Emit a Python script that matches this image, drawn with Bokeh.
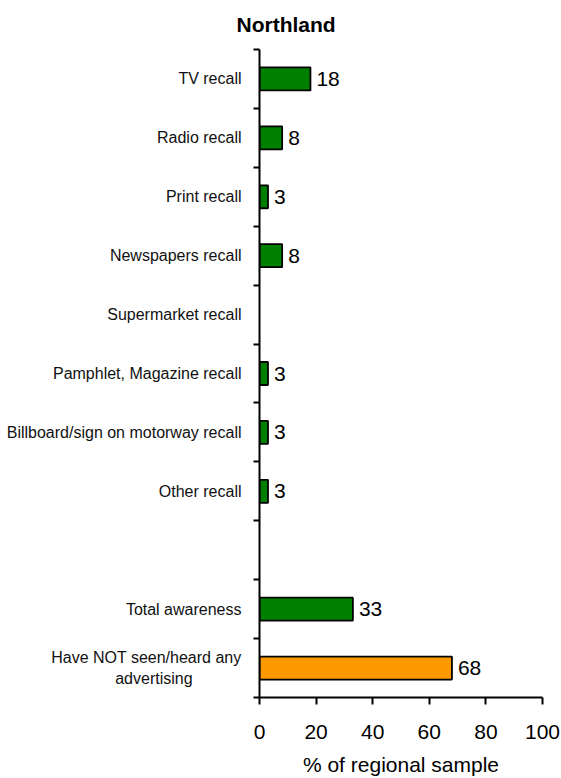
from bokeh.plotting import figure
from bokeh.models import Range1d, FixedTicker, ColumnDataSource, LinearAxis
from bokeh.embed import file_html
from bokeh.resources import INLINE
from bokeh.core.properties import value

NBSP = "\u00a0"
categories = ["TV recall", "Radio recall", "Print recall", "Newspapers recall",
              "Supermarket recall", "Pamphlet, Magazine recall",
              "Billboard/sign on motorway recall", "Other recall", "",
              "Total awareness", "Have NOT seen/heard any\nadvertising" + NBSP * 11]
values = [18, 8, 3, 8, None, 3, 3, 3, None, 33, 68]
colors = ["#008000"] * 10 + ["#FF9900"]
x_ticks = [0, 20, 40, 60, 80, 100]

FONT = "Liberation Sans"

pos = list(range(len(categories)))
bar_pos = [p for p, v in zip(pos, values) if v is not None]
bar_val = [v for v in values if v is not None]
bar_col = [c for c, v in zip(colors, values) if v is not None]
src = ColumnDataSource(dict(y=bar_pos, x=bar_val, c=bar_col,
                            t=[str(v) for v in bar_val]))

p = figure(width=561, height=778, output_backend="svg", toolbar_location=None,
           x_range=Range1d(0, 100), y_range=Range1d(len(categories) - 0.5, -0.5),
           title="Northland", min_border_left=259, min_border_right=19,
           min_border_top=49, min_border_bottom=81, x_axis_location=None,
           y_axis_location=None)
p.outline_line_color = None
p.xgrid.visible = False
p.ygrid.visible = False
p.title.align = "left"
p.title.offset = -23
p.title.text_font = FONT
p.title.text_font_size = "21px"
p.title.text_font_style = "bold"
p.title.text_color = "black"
p.title.vertical_align = "top"
p.title.standoff = 23

p.hbar(y="y", right="x", left=0, height=0.39, fill_color="c",
       line_color="black", line_width=1.8, source=src)
p.text(x="x", y="y", text="t", source=src, x_offset=6,
       text_font=value(FONT), text_font_size="21px", text_baseline="middle",
       text_align="left", text_color="black")

xa = LinearAxis(ticker=FixedTicker(ticks=x_ticks), axis_label="% of regional sample")
xa.axis_line_width = 2
xa.major_tick_line_width = 2
xa.major_tick_out = 7
xa.major_tick_in = 0
xa.minor_tick_line_color = None
xa.major_label_text_font = FONT
xa.major_label_text_font_size = "21px"
xa.major_label_text_color = "black"
xa.major_label_standoff = 20
xa.axis_label_text_font = FONT
xa.axis_label_text_font_size = "21px"
xa.axis_label_text_font_style = "normal"
xa.axis_label_text_color = "black"
xa.axis_label_standoff = 11
p.add_layout(xa, "below")

ya = LinearAxis(ticker=FixedTicker(ticks=pos, minor_ticks=[q - 0.5 for q in pos] + [len(pos) - 0.5]))
ya.major_label_overrides = {q: c for q, c in zip(pos, categories)}
ya.axis_line_width = 2
ya.major_tick_line_color = None
ya.major_tick_out = 0
ya.major_tick_in = 0
ya.minor_tick_line_width = 2
ya.minor_tick_out = 6
ya.minor_tick_in = 0
ya.major_label_text_font = FONT
ya.major_label_text_font_size = "16px"
ya.major_label_text_color = "#111111"
ya.major_label_standoff = 12
p.add_layout(ya, "left")

open("out.html", "w").write(file_html(p, INLINE))
